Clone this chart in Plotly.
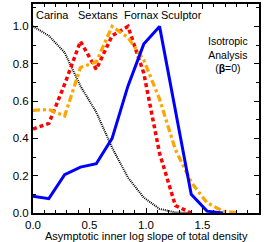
import plotly.graph_objects as go

slope = [0.0, 0.14, 0.28, 0.42, 0.56, 0.70, 0.84, 0.98, 1.12, 1.26, 1.40, 1.54, 1.68, 1.82]

carina_x = [0.0, 0.14, 0.28, 0.42, 0.56, 0.70, 0.84, 0.98, 1.12, 1.26, 1.40]
carina_y = [1.0, 0.95, 0.86, 0.68, 0.54, 0.35, 0.19, 0.083, 0.022, 0.003, 0.0]

sextans_x = [0.0, 0.14, 0.28, 0.42, 0.56, 0.70, 0.84, 0.98, 1.12, 1.26, 1.40]
sextans_y = [0.45, 0.48, 0.69, 0.92, 0.77, 0.95, 1.0, 0.75, 0.32, 0.04, 0.0]

fornax_x = slope
fornax_y = [0.55, 0.555, 0.52, 0.78, 0.81, 1.0, 0.94, 0.82, 0.61, 0.34, 0.165, 0.055, 0.01, 0.0]

sculptor_x = slope[:13]
sculptor_y = [0.09, 0.077, 0.205, 0.246, 0.264, 0.40, 0.68, 0.905, 1.0, 0.55, 0.10, 0.01, 0.0]

labels = ["Carina", "Sextans", "Fornax", "Sculptor"]
label_x = [0.175, 0.573, 0.956, 1.316]

x_ticks = [0.0, 0.5, 1.0, 1.5, 2.0]
y_ticks = [0.0, 0.2, 0.4, 0.6, 0.8, 1.0]

FONT = "Liberation Sans"

fig = go.Figure()
fig.add_trace(go.Scatter(x=carina_x, y=carina_y, mode="lines",
                         line=dict(color="black", width=2, dash="1px,1px")))
fig.add_trace(go.Scatter(x=sextans_x, y=sextans_y, mode="lines",
                         line=dict(color="#ff0000", width=3.5, dash="4px,3px")))
fig.add_trace(go.Scatter(x=fornax_x, y=fornax_y, mode="lines",
                         line=dict(color="#ffa500", width=3.3, dash="7px,3px,3px,3px")))
fig.add_trace(go.Scatter(x=sculptor_x, y=sculptor_y, mode="lines",
                         line=dict(color="#0000ff", width=3)))

for t, xv in zip(labels, label_x):
    fig.add_annotation(x=xv, y=1.06, xref="x", yref="y", text=t, showarrow=False,
                       font=dict(family=FONT, size=11, color="black"))

fig.add_annotation(x=1.726, y=0.85, xref="x", yref="y",
                   text="Isotropic<br>Analysis<br>(<b>β</b>=0)", showarrow=False,
                   font=dict(family=FONT, size=10.5, color="black"), align="center")

fig.add_annotation(x=-0.22, y=0.56, xref="x", yref="y", text="Likelihood", textangle=-90,
                   showarrow=False, font=dict(family=FONT, size=9.5, color="black"))
fig.add_annotation(x=0.5, y=0, xref="paper", yref="paper", yanchor="middle",
                   text="Asymptotic inner log slope of total density", showarrow=False,
                   yshift=-23, font=dict(family=FONT, size=11, color="black"))

axis_common = dict(showline=True, linecolor="black", linewidth=2, mirror="allticks",
                   ticks="inside", tickcolor="black", tickwidth=1.3, ticklen=5,
                   showgrid=False, zeroline=False,
                   tickfont=dict(family=FONT, size=11.5, color="black"))

fig.update_xaxes(range=[0, 2], tickvals=x_ticks, ticktext=[f"{v:.1f}" for v in x_ticks],
                 minor=dict(ticks="inside", dtick=0.1, ticklen=3, tickwidth=1.2, tickcolor="black"),
                 **axis_common)
fig.update_yaxes(range=[0, 1.12], tickvals=y_ticks, ticktext=[f"{v:.1f}" for v in y_ticks],
                 minor=dict(ticks="inside", dtick=0.1, ticklen=3, tickwidth=1.2, tickcolor="black"),
                 **axis_common)

fig.update_layout(width=266, height=242, margin=dict(l=33, r=7, t=2, b=29),
                  paper_bgcolor="white", plot_bgcolor="white", showlegend=False)

fig.write_html("out.html", config={"displayModeBar": False},
               post_script="document.body.style.margin='0';document.body.style.overflow='hidden';")
